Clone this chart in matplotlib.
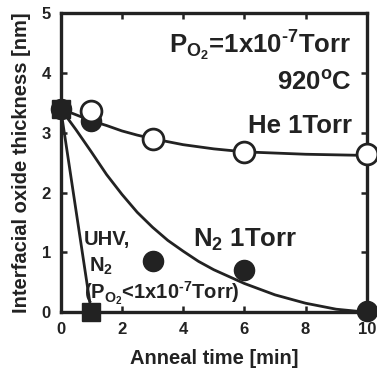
import matplotlib.pyplot as plt

plt.rcParams['font.family'] = ['Liberation Sans', 'DejaVu Sans']
plt.rcParams['font.weight'] = 'bold'
plt.rcParams['mathtext.fontset'] = 'custom'
plt.rcParams['mathtext.rm'] = 'Liberation Sans:bold'
plt.rcParams['mathtext.it'] = 'Liberation Sans:bold'
plt.rcParams['mathtext.bf'] = 'Liberation Sans:bold'

# measured points
he_t = [0, 1, 3, 6, 10]
he_y = [3.4, 3.37, 2.9, 2.67, 2.65]
n2_t = [0, 1, 3, 6, 10]
n2_y = [3.4, 3.2, 0.86, 0.7, 0.02]
uhv_t = [0, 1]
uhv_y = [3.4, 0.0]

# fit curves
he_fit_t = [0, 0.5, 1, 1.5, 2, 2.5, 3, 4, 5, 6, 7, 8, 9, 10]
he_fit_y = [3.4, 3.3, 3.2, 3.12, 3.03, 2.96, 2.9, 2.8, 2.73, 2.68, 2.66, 2.64, 2.63, 2.62]
n2_fit_t = [0, 0.5, 1, 1.5, 2, 2.5, 3, 3.5, 4, 4.5, 5, 6, 7, 8, 9, 10]
n2_fit_y = [3.4, 3.05, 2.68, 2.3, 1.97, 1.67, 1.42, 1.2, 1.02, 0.85, 0.71, 0.48, 0.29, 0.15, 0.05, 0.0]

c = '#222222'

fig = plt.figure(figsize=(3.77, 3.73), dpi=100)
ax = fig.add_axes([0.161, 0.163, 0.812, 0.802])

ax.plot(he_fit_t, he_fit_y, color=c, lw=2, zorder=2)
ax.plot(n2_fit_t, n2_fit_y, color=c, lw=2, zorder=2)
ax.plot(uhv_t, uhv_y, color=c, lw=2, zorder=2)

ax.plot(n2_t, n2_y, 'o', ms=14.5, color=c, mec=c, clip_on=False, zorder=3)
ax.plot(uhv_t, uhv_y, 's', ms=13, color=c, mec=c, clip_on=False, zorder=3)
ax.plot(he_t[1:], he_y[1:], 'o', ms=15, mfc='white', mec=c, mew=2,
        clip_on=False, zorder=4)

ax.set_xlim(0, 10)
ax.set_ylim(0, 5)
ax.set_xticks([0, 2, 4, 6, 8, 10])
ax.set_yticks([0, 1, 2, 3, 4, 5])
ax.tick_params(direction='in', length=4, width=1.8, top=True, right=True,
               labelsize=12, colors=c, pad=7)
for s in ax.spines.values():
    s.set_linewidth(2.4)
    s.set_color(c)

ax.set_xlabel('Anneal time [min]', fontsize=14.5, fontweight='bold', color=c, labelpad=9)
ax.set_ylabel('Interfacial oxide thickness [nm]', fontsize=14.5, fontweight='bold',
              color=c, labelpad=8)

ax.text(9.5, 4.33, r'P$_{\mathrm{O_2}}$=1x10$^{\text{-7}}$Torr', fontsize=18.5,
        ha='right', va='baseline', color=c)
ax.text(9.5, 3.72, r'920$^{\mathrm{o}}$C', fontsize=18.5, ha='right', va='baseline', color=c)
ax.text(9.5, 3.0, 'He 1Torr', fontsize=18.5, ha='right', va='baseline', color=c)
ax.text(4.33, 1.1, r'N$_{\mathrm{2}}$ 1Torr', fontsize=18.5, ha='left', va='baseline', color=c)
ax.text(0.75, 1.13, 'UHV,', fontsize=14.5, ha='left', va='baseline', color=c)
ax.text(0.91, 0.68, r'N$_{\mathrm{2}}$', fontsize=14.5, ha='left', va='baseline', color=c)
ax.text(0.75, 0.22, r'(P$_{\mathrm{O_2}}$<1x10$^{\text{-7}}$Torr)', fontsize=14.5,
        ha='left', va='baseline', color=c)

fig.savefig('out.png', dpi=100)
